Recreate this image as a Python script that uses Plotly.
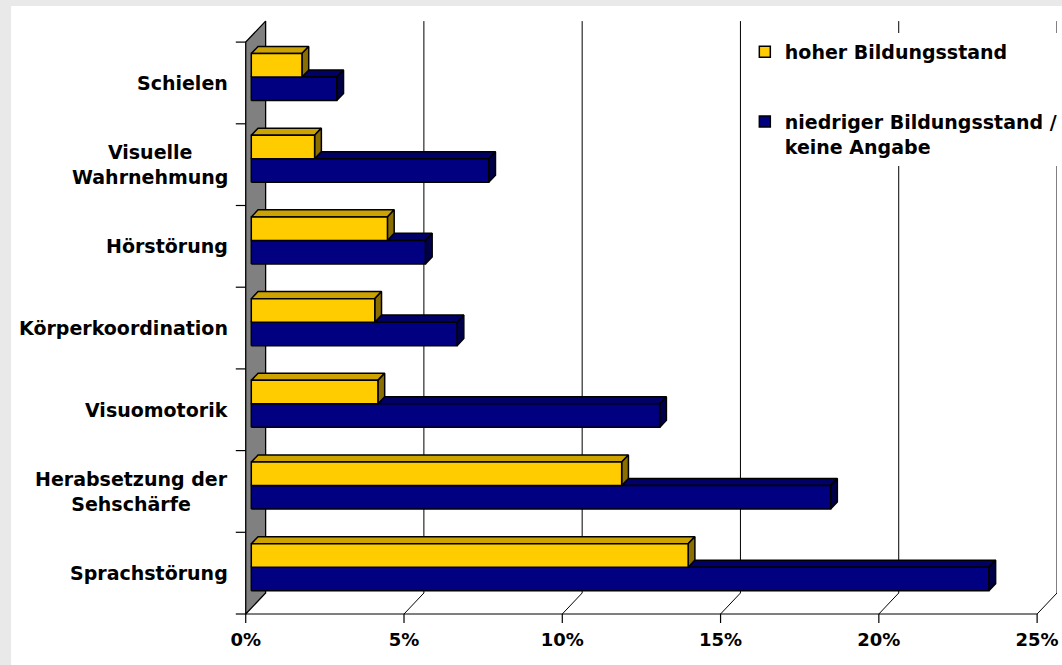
import plotly.graph_objects as go

# ---------------- data ----------------
categories = ["Sprachstörung", "Herabsetzung der<br>Sehschärfe", "Visuomotorik",
              "Körperkoordination", "Hörstörung", "Visuelle<br>Wahrnehmung", "Schielen"]
hoher = [13.8, 11.7, 4.0, 3.9, 4.3, 2.0, 1.6]
niedriger = [23.3, 18.3, 12.9, 6.5, 5.5, 7.5, 2.7]
x_ticks = [0, 5, 10, 15, 20, 25]
x_tick_labels = ["0%", "5%", "10%", "15%", "20%", "25%"]
series_names = ["hoher Bildungsstand", "niedriger Bildungsstand /<br>keine Angabe"]

# ---------------- geometry (pixel layout -> axis units) ----------------
W, H = 1062, 665
PX_L, PX_R, PX_T, PX_B = 200, 1062, 8, 627
X0_PX = 246          # pixel of 0 %
PX_PER = 31.84       # pixels per 1 %
FLOOR_PX = 614       # pixel of front floor line
CAT_PX = 81.7        # pixels per category

xr = [(PX_L - X0_PX) / PX_PER, (PX_R - X0_PX) / PX_PER]
yr = [-0.5 - (PX_B - FLOOR_PX) / CAT_PX, -0.5 + (FLOOR_PX - PX_T) / CAT_PX]
DX = 20 / PX_PER
DY = 21 / CAT_PX
F0, F1 = 0.28, 0.62
BAR_H = 23.5 / CAT_PX
n = len(categories)
y_top = n - 0.5
y_bot = -0.5

FONT = "DejaVu Sans"

fig = go.Figure()


def poly_trace(polys, fill, lw=1.5):
    xs, ys = [], []
    for p in polys:
        for (a, b) in p:
            xs.append(a)
            ys.append(b)
        xs.append(p[0][0]); ys.append(p[0][1])
        xs.append(None); ys.append(None)
    return go.Scatter(x=xs, y=ys, mode="lines", fill="toself", fillcolor=fill,
                      line=dict(color="black", width=lw), hoverinfo="skip",
                      showlegend=False)


def line_trace(segs, color="black", width=1):
    xs, ys = [], []
    for s in segs:
        for (a, b) in s:
            xs.append(a); ys.append(b)
        xs.append(None); ys.append(None)
    return go.Scatter(x=xs, y=ys, mode="lines", line=dict(color=color, width=width),
                      hoverinfo="skip", showlegend=False)


# back gridlines with floor diagonals
grid = []
for k in x_ticks[1:]:
    grid.append([(k, y_bot), (k + DX, y_bot + DY), (k + DX, y_top + DY)])
fig.add_trace(line_trace(grid, "#000000", 1))

# left wall
fig.add_trace(poly_trace([[(0, y_bot), (0, y_top), (DX, y_top + DY), (DX, y_bot + DY)]],
                         "#808080", 1.3))

# front floor line, category ticks, x ticks
segs = [[(0, y_bot), (x_ticks[-1], y_bot)]]
for k in range(n + 1):
    segs.append([(-10 / PX_PER, k - 0.5), (0, k - 0.5)])
for k in x_ticks:
    segs.append([(k, y_bot), (k, y_bot - 9 / CAT_PX)])
fig.add_trace(line_trace(segs, "#000000", 1.2))


def bar_faces(vals, y0s, y1s):
    fronts, tops, sides = [], [], []
    for v, y0, y1 in zip(vals, y0s, y1s):
        fx0, fy0 = F0 * DX, F0 * DY
        bx0, by0 = F1 * DX, F1 * DY
        fronts.append([(fx0, y0 + fy0), (v + fx0, y0 + fy0), (v + fx0, y1 + fy0), (fx0, y1 + fy0)])
        tops.append([(fx0, y1 + fy0), (v + fx0, y1 + fy0), (v + bx0, y1 + by0), (bx0, y1 + by0)])
        sides.append([(v + fx0, y0 + fy0), (v + bx0, y0 + by0), (v + bx0, y1 + by0), (v + fx0, y1 + fy0)])
    return fronts, tops, sides


ypos = list(range(n))
# blue (lower bar in each pair), drawn first
bf, bt, bs = bar_faces(niedriger, [y - BAR_H for y in ypos], [y for y in ypos])
fig.add_trace(poly_trace(bt, "#000066"))
fig.add_trace(poly_trace(bs, "#00004a"))
fig.add_trace(poly_trace(bf, "#000080"))
# yellow (upper bar)
yf, yt, ys_ = bar_faces(hoher, [y for y in ypos], [y + BAR_H for y in ypos])
fig.add_trace(poly_trace(yt, "#cca300"))
fig.add_trace(poly_trace(ys_, "#8a6e00"))
fig.add_trace(poly_trace(yf, "#ffcc00"))

# legend entries
for name, col, grp in [(series_names[0], "#ffcc00", "a"), (series_names[1], "#000080", "b")]:
    fig.add_trace(go.Scatter(x=[None], y=[None], mode="markers", name=name, legendgroup=grp,
                             marker=dict(symbol="square", size=11, color=col,
                                         line=dict(color="black", width=1.5))))

# category labels
for i, c in enumerate(categories):
    fig.add_annotation(x=-16 / PX_PER, y=i, xref="x", yref="y", text=c, showarrow=False,
                       xanchor="right", yanchor="middle", align="center",
                       font=dict(family=FONT, size=19, color="black", weight="bold"))

# outer light gray frame with white chart area
pw = PX_R - PX_L
ph = PX_B - PX_T
fig.add_shape(type="rect", xref="paper", yref="paper", layer="below",
              x0=(10 - PX_L) / pw, x1=1.05, y0=-0.2, y1=(PX_B - 6) / ph,
              fillcolor="white", line=dict(width=0))

fig.update_layout(
    width=W, height=H,
    margin=dict(l=PX_L, r=W - PX_R, t=PX_T, b=H - PX_B),
    paper_bgcolor="#e9e9e9", plot_bgcolor="white",
    showlegend=True,
    legend=dict(x=(748 - PX_L) / pw, y=(PX_B - 33) / ph, xanchor="left", yanchor="top",
                bgcolor="white", borderwidth=0, tracegroupgap=42, valign="top",
                font=dict(family=FONT, size=19, color="black", weight="bold"),
                traceorder="grouped"),
    xaxis=dict(range=xr, showgrid=False, zeroline=False, showline=False,
               tickmode="array", tickvals=x_ticks, ticktext=x_tick_labels, ticks="",
               tickfont=dict(family=FONT, size=18, color="black", weight="bold"),
               fixedrange=True),
    yaxis=dict(range=yr, showgrid=False, zeroline=False, showline=False,
               showticklabels=False, ticks="", fixedrange=True),
)

fig.write_html(
    "out.html",
    config={"displayModeBar": False, "staticPlot": True},
    post_script="document.body.style.margin='0';document.body.style.background='#e9e9e9';",
)
